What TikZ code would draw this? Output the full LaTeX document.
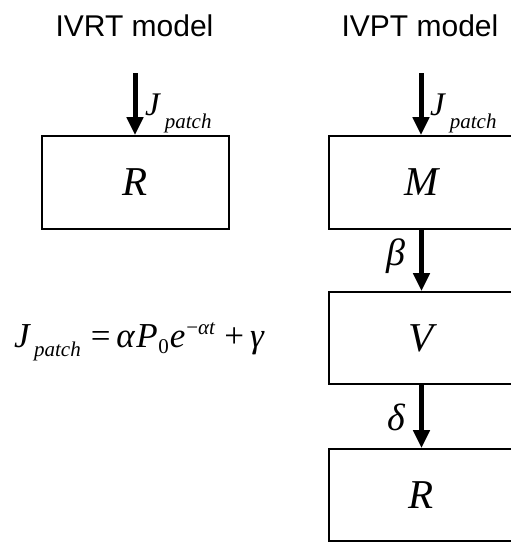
\documentclass[tikz,border=0pt]{standalone}
\usepackage{fontspec}
\setmainfont{Liberation Serif}
\newfontfamily\arialfont{Liberation Sans}
\usetikzlibrary{arrows.meta}
\newcommand{\lowsub}[2]{\raisebox{-#1}{\fontsize{21}{21}\selectfont #2}}
\begin{document}
\begin{tikzpicture}[x=1pt,y=-1pt,
  box/.style={draw,line width=1.6pt,rectangle,inner sep=0pt,minimum height=93pt,
     font=\fontsize{41}{41}\selectfont\itshape},
  flow/.style={line width=5pt,-{Triangle[width=16pt,length=18pt]}},
  title/.style={font=\arialfont\fontsize{30}{30}\selectfont,anchor=base,inner sep=0pt},
  lab/.style={font=\fontsize{33}{33}\selectfont\itshape,inner sep=0pt},
  greek/.style={font=\fontsize{38}{38}\selectfont\itshape,inner sep=0pt}]
\useasboundingbox (0,0) rectangle (511,542);
\clip (0,0) rectangle (511,542);
\node[title] (t1) at (134.5,36) {IVRT model};
\node[title] (t2) at (420,36) {IVPT model};
\node[box,minimum width=187pt] (R1) at (135.5,182.5) {R};
\node[box,minimum width=185pt] (M) at (421.5,182.5) {M};
\node[box,minimum width=185pt,minimum height=92pt] (V) at (421.5,338) {V};
\node[box,minimum width=185pt,minimum height=92pt] (R2) at (421.5,495) {R};
\coordinate (a1) at (135,73);
\coordinate (a2) at (421,73);
\draw[flow] (a1) -- (a1 |- R1.north);
\draw[flow] (a2) -- (a2 |- M.north);
\draw[flow] (M.south) -- (V.north);
\draw[flow] (V.south) -- (R2.north);
\node[lab,anchor=base west] (j1) at (145,115) {J\kern5pt\lowsub{13pt}{patch}};
\node[lab,anchor=base west] (j2) at (430,115) {J\kern5pt\lowsub{13pt}{patch}};
\node[greek] (beta) at (396,256) {β};
\node[greek] (delta) at (396,417) {δ};
\node[font=\fontsize{35}{35}\selectfont,anchor=base west,inner sep=0pt] (eq) at (14,347)
  {\textit{J}\kern3pt\lowsub{9pt}{\itshape patch}\hspace{10pt}=\hspace{6pt}\textit{α}\kern1pt\textit{P}\kern0.5pt\raisebox{-6pt}{\fontsize{21}{21}\selectfont 0}\kern1pt\textit{e}\kern1pt\raisebox{13pt}{\fontsize{21}{21}\selectfont −\textit{αt}}\hspace{9pt}+\hspace{6pt}\textit{γ}};
\end{tikzpicture}
\end{document}
